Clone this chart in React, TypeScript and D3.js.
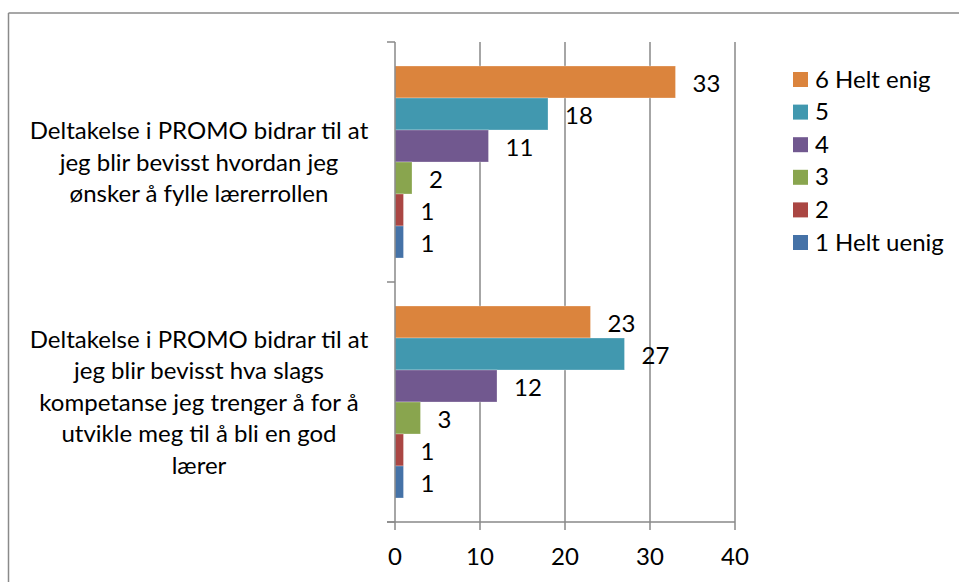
import React from "react";
import * as d3 from "d3";

const categories = ["cat1", "cat2"];
const categoryLines = [
  ["Deltakelse i PROMO bidrar til at", "jeg blir bevisst hvordan jeg", "ønsker å fylle lærerrollen"],
  [
    "Deltakelse i PROMO bidrar til at",
    "jeg blir bevisst hva slags",
    "kompetanse jeg trenger å for å",
    "utvikle meg til å bli en god",
    "lærer",
  ],
];
const seriesNames = ["6 Helt enig", "5", "4", "3", "2", "1 Helt uenig"];
const seriesColors = ["#DB843D", "#4198AF", "#71588F", "#89A54E", "#AA4643", "#4572A7"];
const s6 = [33, 23];
const s5 = [18, 27];
const s4 = [11, 12];
const s3 = [2, 3];
const s2 = [1, 1];
const s1 = [1, 1];
const seriesValues = [s6, s5, s4, s3, s2, s1];
const xTicks = [0, 10, 20, 30, 40];

const W = 959;
const H = 582;
const FONT = "Lato, 'Liberation Sans', Arial, sans-serif";

export default function App() {
  const x = d3.scaleLinear().domain([0, 40]).range([395, 735]);
  const y = d3.scaleBand<string>().domain(categories).range([42, 522]).paddingInner(0).paddingOuter(0);
  const yInner = d3
    .scaleBand<string>()
    .domain(seriesNames)
    .range([0, y.bandwidth()])
    .paddingInner(0)
    .paddingOuter(0.75);
  const grid = "#898989";
  const yTickPos = [42, ...categories.map((c) => (y(c) as number) + y.bandwidth())];
  const lineH = 31.5;

  return (
    <svg
      width={W}
      height={H}
      style={{ position: "absolute", left: 0, top: 0, background: "#fff" }}
      fontFamily={FONT}
    >
      <rect x={0} y={0} width={W} height={H} fill="#fff" />
      {/* outer border */}
      <line x1={8.5} y1={13} x2={W + 5} y2={13} stroke="#8a8a8a" strokeWidth={1.5} />
      <line x1={8.5} y1={13} x2={8.5} y2={H + 5} stroke="#8a8a8a" strokeWidth={1.5} />

      {/* gridlines */}
      {xTicks.slice(1).map((t) => (
        <line key={"g" + t} x1={x(t)} x2={x(t)} y1={42} y2={522} stroke={grid} strokeWidth={1.5} />
      ))}

      {/* bars */}
      {categories.map((c, ci) =>
        seriesNames.map((s, si) => {
          const v = seriesValues[si][ci];
          const by = (y(c) as number) + (yInner(s) as number);
          const bh = yInner.bandwidth();
          return (
            <g key={c + s}>
              <rect
                x={x(0)}
                y={by}
                width={x(v) - x(0)}
                height={bh}
                fill={seriesColors[si]}
                stroke="rgba(255,255,255,0.35)"
                strokeWidth={0.8}
              />
              <text x={x(v) + 17} y={by + bh / 2 + 10} fontSize={24} fill="#000">
                {v}
              </text>
            </g>
          );
        })
      )}

      {/* axes */}
      <line x1={x(0)} x2={x(0)} y1={42} y2={522} stroke={grid} strokeWidth={1.5} />
      {yTickPos.map((p, i) => (
        <line key={"yt" + i} x1={387} x2={x(0)} y1={p} y2={p} stroke={grid} strokeWidth={1.5} />
      ))}
      <line x1={387} x2={x(40)} y1={522} y2={522} stroke={grid} strokeWidth={1.5} />
      {xTicks.map((t) => (
        <g key={"xt" + t}>
          <line x1={x(t)} x2={x(t)} y1={522} y2={530} stroke={grid} strokeWidth={1.5} />
          <text x={x(t)} y={565} textAnchor="middle" fontSize={24} fill="#000">
            {t}
          </text>
        </g>
      ))}

      {/* category labels */}
      {categories.map((c, ci) => {
        const lines = categoryLines[ci];
        const cy = (y(c) as number) + y.bandwidth() / 2;
        const start = cy - ((lines.length - 1) * lineH) / 2;
        return (
          <text key={"cl" + c} textAnchor="middle" fontSize={24} fill="#000">
            {lines.map((l, li) => (
              <tspan key={li} x={199} y={start + li * lineH + 8.5}>
                {l}
              </tspan>
            ))}
          </text>
        );
      })}

      {/* legend */}
      {seriesNames.map((s, si) => {
        const cy = 79.5 + si * 32.6;
        return (
          <g key={"lg" + s}>
            <rect x={793} y={cy - 7.5} width={15} height={15} fill={seriesColors[si]} />
            <text x={815} y={cy + 8} fontSize={24} fill="#000">
              {s}
            </text>
          </g>
        );
      })}
    </svg>
  );
}
